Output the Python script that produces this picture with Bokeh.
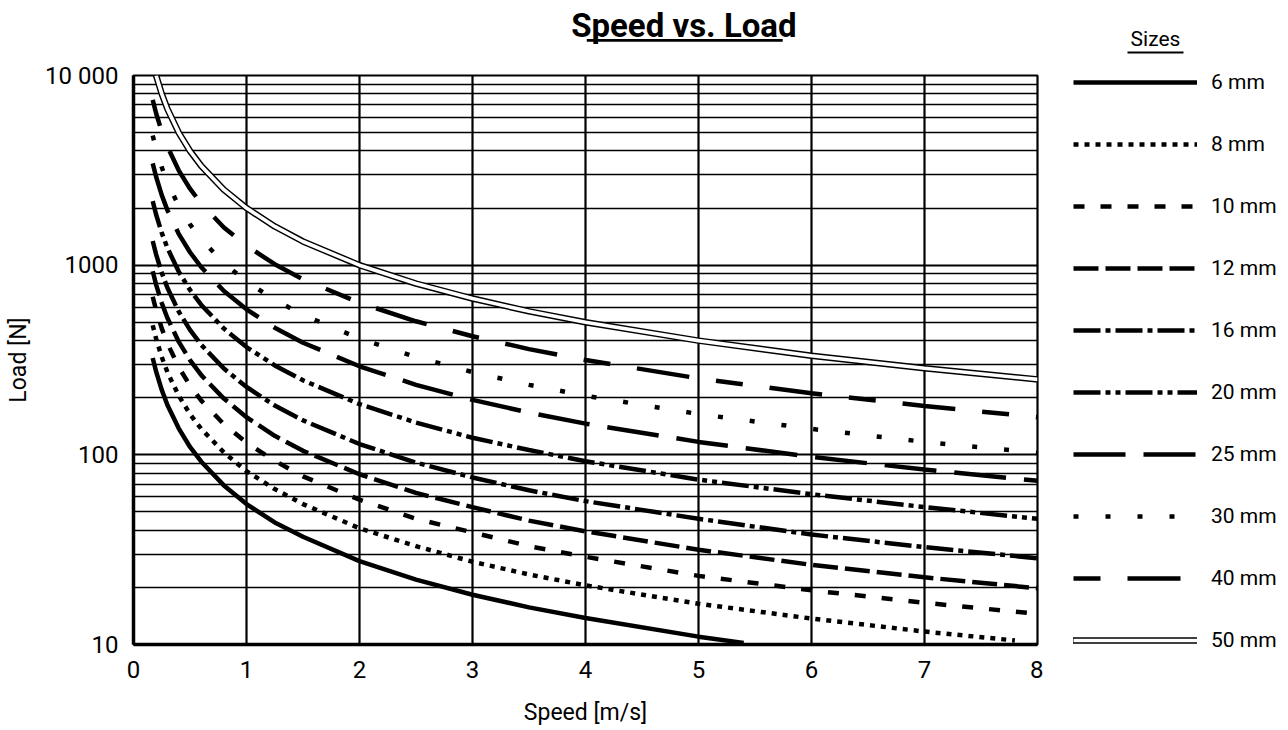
from bokeh.plotting import figure
from bokeh.layouts import row, column
from bokeh.models import FixedTicker, Legend, LegendItem, Label, BoxAnnotation, Range1d
from bokeh.embed import file_html
from bokeh.resources import INLINE

FONT = "Roboto"
NAN = float("nan")

# ---- data ----
speed_main = [0.17, 0.2, 0.25, 0.3, 0.4, 0.5, 0.6, 0.8, 1.0, 1.25, 1.5, 2.0, 2.5, 3.0, 3.5, 4.0, 5.0, 6.0, 7.0, 8.0]
speed_6 = [0.17, 0.2, 0.25, 0.3, 0.4, 0.5, 0.6, 0.8, 1.0, 1.25, 1.5, 2.0, 2.5, 3.0, 3.5, 4.0, 5.0, 5.4]
speed_8 = [0.17, 0.2, 0.25, 0.3, 0.4, 0.5, 0.6, 0.8, 1.0, 1.25, 1.5, 2.0, 2.5, 3.0, 3.5, 4.0, 5.0, 6.0, 7.0, 7.8]
speed_50 = [0.2, 0.25, 0.3, 0.4, 0.5, 0.6, 0.8, 1.0, 1.25, 1.5, 2.0, 2.5, 3.0, 3.5, 4.0, 5.0, 6.0, 7.0, 8.0]

load_6 = [324, 275, 220, 183, 138, 110, 92, 69, 55, 44, 37, 27.5, 22, 18.3, 15.7, 13.8, 11, 10.2]
load_8 = [482, 410, 328, 273, 205, 164, 137, 103, 82, 66, 55, 41, 33, 27.3, 23.4, 20.5, 16.4, 13.7, 11.7, 10.5]
load_10 = [682, 580, 464, 387, 290, 232, 193, 145, 116, 93, 77, 58, 46, 39, 33, 29, 23, 19.3, 16.6, 14.5]
load_12 = [929, 790, 632, 527, 395, 316, 263, 198, 158, 126, 105, 79, 63, 53, 45, 39.5, 31.6, 26.3, 22.6, 19.8]
load_16 = [1341, 1140, 912, 760, 570, 456, 380, 285, 228, 182, 152, 114, 91, 76, 65, 57, 46, 38, 32.6, 28.5]
load_20 = [2176, 1850, 1480, 1233, 925, 740, 617, 463, 370, 296, 247, 185, 148, 123, 106, 92.5, 74, 62, 53, 46]
load_25 = [3441, 2925, 2340, 1950, 1463, 1170, 975, 731, 585, 468, 390, 293, 234, 195, 167, 146, 117, 97.5, 83.6, 73]
load_30 = [4824, 4100, 3280, 2733, 2050, 1640, 1367, 1025, 820, 656, 547, 410, 328, 273, 234, 205, 164, 137, 117, 102.5]
load_40 = [7441, 6325, 5060, 4217, 3163, 2530, 2108, 1581, 1265, 1012, 843, 633, 506, 422, 361, 316, 253, 211, 181, 158]
load_50 = [10000, 8000, 6667, 5000, 4000, 3333, 2500, 2000, 1600, 1333, 1000, 800, 667, 571, 500, 400, 333, 286, 250]

size_labels = ["6 mm", "8 mm", "10 mm", "12 mm", "16 mm", "20 mm", "25 mm", "30 mm", "40 mm", "50 mm"]
x_ticks = [0, 1, 2, 3, 4, 5, 6, 7, 8]
y_ticks = [10, 100, 1000, 10000]
y_tick_labels = ["10", "100", "1000", "10 000"]

# line styles per size: (dash, dash offset)
LW = 4.5
styles = [("solid", 0), ("5 6", 0), ("11 16", 0), ("25 7", 0), ("27 5 5 5", 0),
          ("27 5 5 5 5 5", 0), ("52 18", 0), ("5 27", 0), ("53 27 27 27", 80)]

TOP_H = 55
MAIN_W = 1043
TOTAL_W = 1280
TOTAL_H = 728

# ---- title band ----
tf = figure(width=MAIN_W, height=TOP_H, x_range=Range1d(0, MAIN_W), y_range=Range1d(TOP_H, 0),
            x_axis_type=None, y_axis_type=None, output_backend="svg", toolbar_location=None,
            min_border=0, outline_line_color=None)
tf.grid.visible = False
tf.add_layout(Label(x=635, y=25, text="Speed vs. Load", text_font=FONT, text_font_size="33px",
                    text_font_style="bold", text_align="center", text_baseline="alphabetic",
                    text_color="black"))
tf.add_layout(BoxAnnotation(left=523, right=749, top=38.5, bottom=41.2,
                            fill_color="black", fill_alpha=1, line_color=None))

# ---- main chart ----
p = figure(width=MAIN_W, height=TOTAL_H - TOP_H, x_range=Range1d(0, 8), y_range=Range1d(10, 10000),
           y_axis_type="log", output_backend="svg", toolbar_location=None,
           min_border_left=133, min_border_right=6, min_border_top=75 - TOP_H,
           min_border_bottom=TOTAL_H - 645, x_axis_label="Speed [m/s]", y_axis_label="Load [N]")
p.outline_line_color = "black"
p.outline_line_width = 2.2

minor = [m * d for d in (10, 100, 1000) for m in range(2, 10)]
p.xaxis.ticker = FixedTicker(ticks=x_ticks)
p.yaxis.ticker = FixedTicker(ticks=y_ticks, minor_ticks=minor)
p.yaxis.major_label_overrides = {t: s for t, s in zip(y_ticks, y_tick_labels)}

for ax in (p.xaxis, p.yaxis):
    ax.axis_line_color = "black"
    ax.axis_line_width = 3.5
    ax.major_tick_in = 0
    ax.major_tick_out = 0
    ax.minor_tick_in = 0
    ax.minor_tick_out = 0
    ax.major_label_text_font = FONT
    ax.major_label_text_font_size = "24px"
    ax.major_label_text_color = "black"
    ax.axis_label_text_font = FONT
    ax.axis_label_text_font_size = "23px"
    ax.axis_label_text_font_style = "normal"
    ax.axis_label_text_color = "black"
p.xaxis.major_label_standoff = 16
p.yaxis.major_label_standoff = 15
p.xaxis.axis_label_standoff = 18
p.yaxis.axis_label_standoff = 10

p.xgrid.grid_line_color = "black"
p.xgrid.grid_line_width = 2.2
p.xgrid.grid_line_alpha = 1
p.ygrid.ticker = FixedTicker(ticks=y_ticks, minor_ticks=minor)
p.ygrid.grid_line_color = "black"
p.ygrid.grid_line_width = 2.2
p.ygrid.grid_line_alpha = 1
p.ygrid.minor_grid_line_color = "black"
p.ygrid.minor_grid_line_width = 1.3
p.ygrid.minor_grid_line_alpha = 1

series = [(speed_6, load_6), (speed_8, load_8), (speed_main, load_10), (speed_main, load_12),
          (speed_main, load_16), (speed_main, load_20), (speed_main, load_25),
          (speed_main, load_30), (speed_main, load_40)]
for (xs, ys), (dash, off) in zip(series, styles):
    p.line(xs, ys, line_color="black", line_width=LW, line_dash=dash, line_dash_offset=off)
p.line(speed_50, load_50, line_color="black", line_width=6.5, line_cap="square")
p.line(speed_50, load_50, line_color="white", line_width=3.6)

# ---- legend panel (swatch renderers carry no visible data) ----
LEG_W = TOTAL_W - MAIN_W
lf = figure(width=LEG_W, height=TOTAL_H, x_range=Range1d(0, LEG_W), y_range=Range1d(TOTAL_H, 0),
            x_axis_type=None, y_axis_type=None, output_backend="svg", toolbar_location=None,
            min_border=0, outline_line_color=None)
lf.grid.visible = False
items = []
for lab, (dash, off) in zip(size_labels[:-1], styles):
    r = lf.line(x=[NAN], y=[NAN], line_color="black", line_width=LW, line_dash=dash,
                line_dash_offset=off)
    items.append(LegendItem(label=lab, renderers=[r]))
ra = lf.line(x=[NAN], y=[NAN], line_color="black", line_width=6.5, line_cap="square")
rb = lf.line(x=[NAN], y=[NAN], line_color="white", line_width=3.6)
items.append(LegendItem(label=size_labels[-1], renderers=[ra, rb]))
legend = Legend(items=items, location=(1073 - MAIN_W, 74), glyph_width=124, glyph_height=28,
                label_height=28, spacing=34, label_standoff=14, padding=0, margin=0,
                border_line_color=None, background_fill_alpha=0,
                label_text_font=FONT, label_text_font_size="21px", label_text_color="black")
lf.add_layout(legend)
lf.add_layout(Label(x=1155 - MAIN_W, y=38.7, text="Sizes", text_font=FONT, text_font_size="21px",
                    text_align="center", text_baseline="alphabetic", text_color="black"))
lf.add_layout(BoxAnnotation(left=1127 - MAIN_W, right=1183 - MAIN_W, top=51, bottom=53,
                            fill_color="black", fill_alpha=1, line_color=None))

layout = row(column(tf, p, spacing=0), lf, spacing=0)
open("out.html", "w").write(file_html(layout, INLINE))
